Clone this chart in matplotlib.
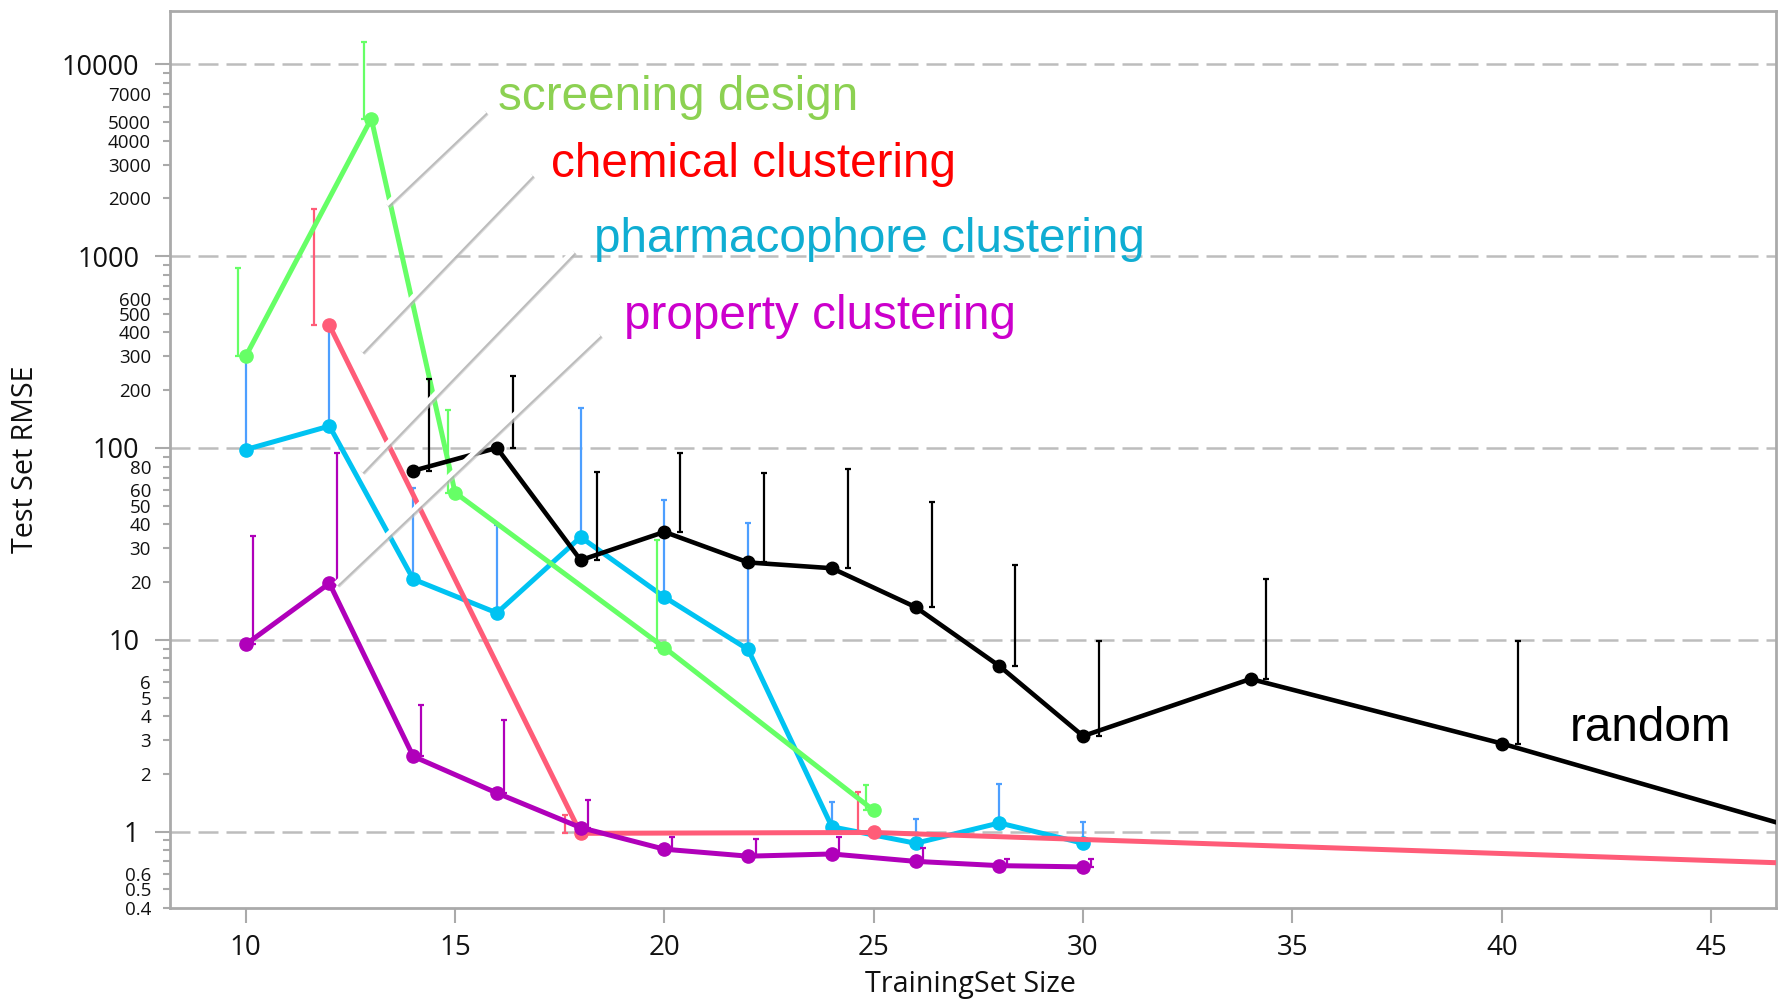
import numpy as np
import matplotlib
matplotlib.use("Agg")
import matplotlib.pyplot as plt
import matplotlib.patheffects as pe
from matplotlib.ticker import FixedLocator, FixedFormatter

# ---------------- data ----------------
random_x = [14, 16, 18, 20, 22, 24, 26, 28, 30, 34, 40, 50]
random_y = [76, 100, 26, 36.5, 25.3, 23.6, 14.8, 7.3, 3.15, 6.25, 2.88, 0.68]
random_err_top = [230, 238, 75, 94, 74, 78, 52, 24.5, 9.9, 20.8, 9.9, None]

screen_x = [10, 13, 15, 20, 25]
screen_y = [300, 5200, 58.5, 9.1, 1.29]
screen_err_top = [865, 13000, 158, 33, 1.75]

chem_x = [12, 18, 25, 50]
chem_y = [435, 0.98, 0.99, 0.65]
chem_err_top = [1760, 1.22, 1.6, None]

pharm_x = [10, 12, 14, 16, 18, 20, 22, 24, 26, 28, 30]
pharm_y = [98, 130, 20.7, 13.8, 34.3, 16.7, 8.9, 1.06, 0.87, 1.11, 0.87]
pharm_err_top = [310, 415, 61.5, 39.6, 161, 53.8, 40.5, 1.42, 1.17, 1.78, 1.12]

prop_x = [10, 12, 14, 16, 18, 20, 22, 24, 26, 28, 30]
prop_y = [9.45, 19.7, 2.47, 1.59, 1.05, 0.81, 0.745, 0.765, 0.70, 0.665, 0.655]
prop_err_top = [34.6, 94.5, 4.55, 3.8, 1.47, 0.94, 0.92, 0.94, 0.82, 0.72, 0.72]

x_ticks = [10, 15, 20, 25, 30, 35, 40, 45]
y_major = [1, 10, 100, 1000, 10000]
y_major_labels = ["1", "10", "100", "1000", "10000"]
y_minor_labeled = {0.4: "0.4", 0.5: "0.5", 0.6: "0.6",
                   2: "2", 3: "3", 4: "4", 5: "5", 6: "6",
                   20: "20", 30: "30", 40: "40", 50: "50", 60: "60", 80: "80",
                   200: "200", 300: "300", 400: "400", 500: "500", 600: "600",
                   2000: "2000", 3000: "3000", 4000: "4000", 5000: "5000", 7000: "7000"}

series_names = ["screening design", "chemical clustering",
                "pharmacophore clustering", "property clustering", "random"]

# ---------------- figure ----------------
fig = plt.figure(figsize=(17.89, 10), dpi=100)
ax = fig.add_axes([0.09475, 0.092, 0.898, 0.8973])
ax.set_yscale("log")
ax.set_xlim(8.18, 46.55)
ax.set_ylim(0.4, 19000)

grid_col = "#BDBDBD"
spine_col = "#AAAAAA"
for s in ax.spines.values():
    s.set_color(spine_col)
    s.set_linewidth(2)

ax.yaxis.grid(True, which="major", color=grid_col, linestyle=(0, (8, 3.2)), linewidth=1.8)
ax.set_axisbelow(True)

# y ticks
ax.yaxis.set_major_locator(FixedLocator(y_major))
ax.yaxis.set_major_formatter(FixedFormatter(y_major_labels))
minor_vals = []
for dec in [0.1, 1, 10, 100, 1000]:
    for m in range(2, 10):
        v = round(m * dec, 6)
        if v >= 0.4:
            minor_vals.append(v)
minor_labels = [y_minor_labeled.get(v, y_minor_labeled.get(int(v) if v >= 1 else v, "")) for v in minor_vals]
ax.yaxis.set_minor_locator(FixedLocator(minor_vals))
ax.yaxis.set_minor_formatter(FixedFormatter(minor_labels))

tick_font = "Open Sans"
ax.tick_params(axis="y", which="major", length=10.8, width=1.5, color=spine_col,
               pad=11, labelsize=19.5, labelcolor="#111111")
ax.tick_params(axis="y", which="minor", length=4.8, width=1.5, color=spine_col,
               pad=8.5, labelsize=13.5, labelcolor="#111111")
ax.set_xticks(x_ticks)
ax.set_xticklabels([str(t) for t in x_ticks])
ax.tick_params(axis="x", which="major", length=11, width=1.5, color=spine_col,
               pad=8, labelsize=20, labelcolor="#111111")
for lab in ax.get_xticklabels() + ax.get_yticklabels() + ax.get_yticklabels(minor=True):
    lab.set_fontfamily(tick_font)


def draw(xs, ys, tops, color, ecolor, offset, lw, ms, z):
    ax.plot(xs, ys, color=color, lw=lw, marker="o", ms=ms, zorder=z,
            solid_joinstyle="round")
    ex, ey, eu = [], [], []
    for xv, yv, tv in zip(xs, ys, tops):
        if tv is None:
            continue
        ex.append(xv + offset)
        ey.append(yv)
        eu.append(tv - yv)
    ax.errorbar(ex, ey, yerr=[np.zeros(len(ey)), eu], fmt="none", ecolor=ecolor,
                elinewidth=1.6, capsize=2, capthick=1.6, zorder=z - 0.5)


draw(pharm_x, pharm_y, pharm_err_top, "#00C3F2", "#4D9FFF", 0.0, 3.6, 9.5, 3)
draw(chem_x, chem_y, chem_err_top, "#FF5C78", "#FF5C78", -0.38, 3.6, 9.5, 4)
draw(prop_x, prop_y, prop_err_top, "#B000BA", "#B000BA", 0.18, 3.6, 9.5, 5)
draw(screen_x, screen_y, screen_err_top, "#66FF66", "#66FF66", -0.18, 3.6, 9.5, 6)
draw(random_x, random_y, random_err_top, "#000000", "#000000", 0.38, 3.3, 9, 7)

# pointer lines (white with soft shadow)
pointers = [((13.36, 1858), (15.71, 5705)),
            ((12.75, 320), (16.82, 2673)),
            ((12.75, 75.8), (17.82, 1062)),
            ((12.15, 19.6), (18.44, 392))]
for (x0, y0), (x1, y1) in pointers:
    ax.plot([x0, x1], [y0, y1], color="white", lw=3.4, solid_capstyle="butt", zorder=10,
            path_effects=[pe.SimpleLineShadow(offset=(1.6, -1.6), shadow_color="#c4c4c4", alpha=0.6),
                          pe.SimpleLineShadow(offset=(1.0, -1.0), shadow_color="#a8a8a8", alpha=0.6),
                          pe.Normal()])

# series labels
label_font = "Liberation Sans"
label_specs = [(0.2045, 0.8893, "#8CD152"),
               (0.2374, 0.8143, "#FF0000"),
               (0.2642, 0.7314, "#0FADD2"),
               (0.2831, 0.6449, "#CC00CC"),
               (0.8713, 0.1861, "#000000")]
for name, (tx, ty, col) in zip(series_names, label_specs):
    ax.text(tx, ty, name, transform=ax.transAxes, ha="left", va="baseline",
            fontsize=34.3, color=col, fontfamily=label_font, zorder=12)

fig.text(0.5427, 0.0083, "TrainingSet Size", ha="center", va="baseline",
         fontsize=20.6, fontfamily=tick_font, color="#111111")
fig.text(0.014, 0.5407, "Test Set RMSE", ha="center", va="center", rotation=90,
         fontsize=20.6, fontfamily=tick_font, color="#111111")

fig.savefig("out.png", dpi=100)
